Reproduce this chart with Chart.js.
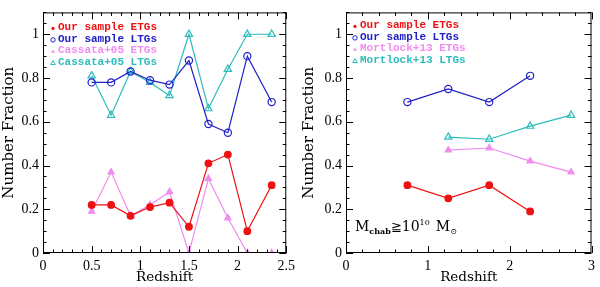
<!DOCTYPE html>
<html>
<head>
<meta charset="utf-8">
<script src="https://cdn.jsdelivr.net/npm/chart.js@4.4.0/dist/chart.umd.min.js"></script>
<style>
  html, body { margin: 0; padding: 0; background: #fff; }
  .panel { position: absolute; top: 0; width: 300px; height: 287px; }
</style>
</head>
<body>
<div class="panel" style="left:0"><canvas id="leftChart"></canvas></div>
<div class="panel" style="left:300px"><canvas id="rightChart"></canvas></div>
<script>
// ---- left panel: our sample vs Cassata+05
const zLeft = [0.5, 0.7, 0.9, 1.1, 1.3, 1.5, 1.7, 1.9, 2.1, 2.35];
const ourEtgLeft = [0.22, 0.22, 0.17, 0.21, 0.23, 0.12, 0.41, 0.45, 0.10, 0.31];
const ourLtgLeft = [0.78, 0.78, 0.83, 0.79, 0.77, 0.88, 0.59, 0.55, 0.90, 0.69];
const cassataEtg = [0.19, 0.37, 0.17, 0.22, 0.28, 0.00, 0.34, 0.16, 0.00, 0.00];
const cassataLtg = [0.81, 0.63, 0.83, 0.78, 0.72, 1.00, 0.66, 0.84, 1.00, 1.00];

// ---- right panel: our sample (mass limited) vs Mortlock+13
const zOurRight = [0.75, 1.25, 1.75, 2.25];
const ourEtgRight = [0.31, 0.25, 0.31, 0.19];
const ourLtgRight = [0.69, 0.75, 0.69, 0.81];
const zMortlock = [1.25, 1.75, 2.25, 2.75];
const mortlockEtg = [0.47, 0.48, 0.42, 0.37];
const mortlockLtg = [0.53, 0.52, 0.58, 0.63];

// tick labels
const yTicks = [0, 0.2, 0.4, 0.6, 0.8, 1];
const xTicksLeft = [0, 0.5, 1, 1.5, 2, 2.5];
const xTicksRight = [0, 1, 2, 3];

const RED = '#ee1111', BLUE = '#2020c8', VIOLET = '#f08cf0', CYAN = '#2fbcbc';
const SERIF = "'DejaVu Serif', serif";

function pts(xs, ys) {
  return xs.map((x, i) => ({ x: x, y: ys[i] }));
}

function series(label, xs, ys, color, style, filled, r) {
  return {
    label: label,
    data: pts(xs, ys),
    showLine: true,
    borderColor: color,
    backgroundColor: filled ? color : 'rgba(0,0,0,0)',
    borderWidth: 1.2,
    pointStyle: style,
    pointRadius: r,
    pointBorderWidth: 1.2,
    pointBorderColor: color,
    pointBackgroundColor: filled ? color : 'rgba(0,0,0,0)'
  };
}

// box + inward major/minor ticks on all four sides
const frameTicks = {
  id: 'frameTicks',
  afterDatasetsDraw(chart, args, o) {
    const { ctx, chartArea: a, scales } = chart;
    const sx = scales.x, sy = scales.y;
    ctx.save();
    ctx.strokeStyle = '#000';
    ctx.lineWidth = 1;
    ctx.strokeRect(a.left + 0.5, a.top + 0.5, a.right - a.left - 1, a.bottom - a.top - 1);
    ctx.beginPath();
    for (let i = 0; i * o.xMinor <= sx.max + 1e-9; i++) {
      const v = i * o.xMinor;
      const len = (Math.abs(v / o.xMajor - Math.round(v / o.xMajor)) < 1e-6) ? 7 : 3.5;
      const px = Math.round(sx.getPixelForValue(v)) + 0.5;
      ctx.moveTo(px, a.bottom); ctx.lineTo(px, a.bottom - len);
      ctx.moveTo(px, a.top); ctx.lineTo(px, a.top + len);
    }
    for (let i = 0; i * o.yMinor <= sy.max + 1e-9; i++) {
      const v = i * o.yMinor;
      const len = (Math.abs(v / o.yMajor - Math.round(v / o.yMajor)) < 1e-6) ? 7 : 3.5;
      const py = Math.round(sy.getPixelForValue(v)) + 0.5;
      ctx.moveTo(a.left, py); ctx.lineTo(a.left + len, py);
      ctx.moveTo(a.right, py); ctx.lineTo(a.right - len, py);
    }
    ctx.stroke();
    ctx.restore();
  }
};

// legend drawn inside the plot, each entry in its series colour
function drawMarker(ctx, kind, color, x, y) {
  ctx.strokeStyle = color;
  ctx.fillStyle = color;
  ctx.lineWidth = 1;
  ctx.beginPath();
  if (kind === 'dot') { ctx.arc(x, y, 1.6, 0, Math.PI * 2); ctx.fill(); }
  else if (kind === 'ring') { ctx.arc(x, y, 2.2, 0, Math.PI * 2); ctx.stroke(); }
  else if (kind === 'tri') { ctx.moveTo(x, y - 1.8); ctx.lineTo(x + 1.8, y + 1.3); ctx.lineTo(x - 1.8, y + 1.3); ctx.closePath(); ctx.fill(); }
  else { ctx.moveTo(x, y - 2.4); ctx.lineTo(x + 2.3, y + 1.6); ctx.lineTo(x - 2.3, y + 1.6); ctx.closePath(); ctx.stroke(); }
}

const insideLegend = {
  id: 'insideLegend',
  afterDraw(chart, args, o) {
    const { ctx, chartArea: a } = chart;
    ctx.save();
    ctx.font = "bold 11px 'Liberation Mono', monospace";
    ctx.textBaseline = 'middle';
    o.items.forEach((it, i) => {
      const y = a.top + o.dy + i * o.step;
      drawMarker(ctx, it.kind, it.color, a.left + o.dx, y + 1);
      ctx.fillStyle = it.color;
      ctx.fillText(it.text, a.left + o.dx + 5, y);
    });
    if (o.massLabel) {
      const x0 = a.left + 9, yb = a.bottom - 22;
      ctx.fillStyle = '#000';
      ctx.textBaseline = 'alphabetic';
      let x = x0;
      const put = (t, size, dy) => {
        ctx.font = size + 'px ' + SERIF;
        ctx.fillText(t, x, yb + dy);
        x += ctx.measureText(t).width;
      };
      put('M', 14, 0);
      ctx.font = 'bold 8px ' + SERIF; ctx.fillText('chab', x, yb + 3); x += ctx.measureText('chab').width;
      put('\u2267', 13, 0);
      put('10', 14, 0);
      put('10', 8, -6);
      x += 6;
      put('M', 14, 0);
      put('\u2299', 8, 3);
    }
    ctx.restore();
  }
};

function makeChart(id, datasets, xTicks, xMax, xMinor, xMajor, legendItems, pad, yWidth, massLabel) {
  new Chart(document.getElementById(id), {
    type: 'scatter',
    data: { datasets: datasets },
    plugins: [frameTicks, insideLegend],
    options: {
      responsive: true,
      maintainAspectRatio: false,
      animation: false,
      layout: { padding: pad },
      plugins: {
        legend: { display: false },
        tooltip: { enabled: false },
        frameTicks: { xMinor: xMinor, xMajor: xMajor, yMinor: 0.05, yMajor: 0.2 },
        insideLegend: { items: legendItems, dx: id === 'leftChart' ? 10 : 9, dy: id === 'leftChart' ? 15 : 13, step: 11.5, massLabel: massLabel }
      },
      scales: {
        x: {
          type: 'linear', min: 0, max: xMax,
          afterBuildTicks: s => { s.ticks = xTicks.map(v => ({ value: v })); },
          afterFit: s => { s.height = 34; },
          grid: { display: false, drawTicks: false },
          border: { display: false },
          ticks: { color: '#000', padding: 5, font: { family: 'Liberation Serif', size: 14 }, callback: v => String(v), maxRotation: 0 },
          title: { display: true, text: 'Redshift', color: '#000', padding: { top: 0, bottom: 1 }, font: { family: SERIF, size: 13.5 } }
        },
        y: {
          type: 'linear', min: 0, max: 1.1,
          afterBuildTicks: s => { s.ticks = yTicks.map(v => ({ value: v })); },
          afterFit: s => { s.width = yWidth; },
          grid: { display: false, drawTicks: false },
          border: { display: false },
          ticks: { color: '#000', padding: 4, font: { family: 'Liberation Serif', size: 14 }, callback: v => String(v) },
          title: { display: true, text: 'Number Fraction', color: '#000', padding: { top: 0, bottom: 2 }, font: { family: SERIF, size: 15 } }
        }
      }
    }
  });
}

makeChart('leftChart', [
  series('Our sample ETGs', zLeft, ourEtgLeft, RED, 'circle', true, 3.3),
  series('Our sample LTGs', zLeft, ourLtgLeft, BLUE, 'circle', false, 3.6),
  series('Cassata+05 ETGs', zLeft, cassataEtg, VIOLET, 'triangle', true, 3.6),
  series('Cassata+05 LTGs', zLeft, cassataLtg, CYAN, 'triangle', false, 4.2)
], xTicksLeft, 2.5, 0.1, 0.5, [
  { text: 'Our sample ETGs', color: RED, kind: 'dot' },
  { text: 'Our sample LTGs', color: BLUE, kind: 'ring' },
  { text: 'Cassata+05 ETGs', color: VIOLET, kind: 'tri' },
  { text: 'Cassata+05 LTGs', color: CYAN, kind: 'otri' }
], { top: 9, right: 12, left: 0, bottom: 0 }, 43, false);

makeChart('rightChart', [
  series('Our sample ETGs', zOurRight, ourEtgRight, RED, 'circle', true, 3.3),
  series('Our sample LTGs', zOurRight, ourLtgRight, BLUE, 'circle', false, 3.6),
  series('Mortlock+13 ETGs', zMortlock, mortlockEtg, VIOLET, 'triangle', true, 3.6),
  series('Mortlock+13 LTGs', zMortlock, mortlockLtg, CYAN, 'triangle', false, 4.2)
], xTicksRight, 3, 0.2, 1, [
  { text: 'Our sample ETGs', color: RED, kind: 'dot' },
  { text: 'Our sample LTGs', color: BLUE, kind: 'ring' },
  { text: 'Mortlock+13 ETGs', color: VIOLET, kind: 'tri' },
  { text: 'Mortlock+13 LTGs', color: CYAN, kind: 'otri' }
], { top: 4, right: 4, left: 0, bottom: 0 }, 46, true);
</script>
</body>
</html>
